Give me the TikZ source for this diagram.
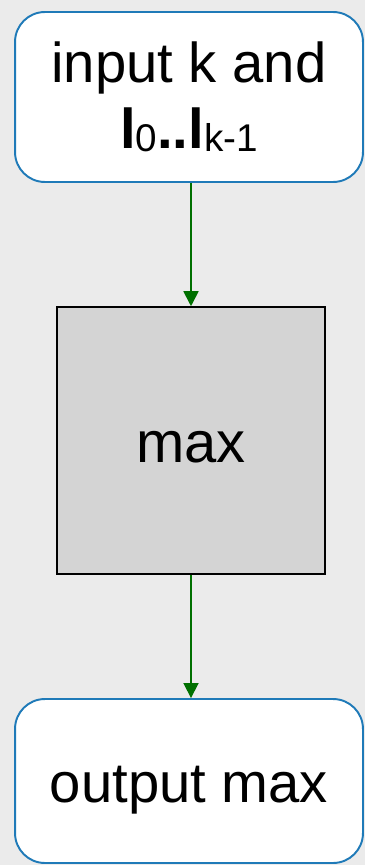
\documentclass[tikz,border=0pt]{standalone}
\usepackage{fontspec}
\setmainfont{Liberation Sans}
\usepackage{tikz}
\usetikzlibrary{arrows.meta,positioning,calc}
\definecolor{bgback}{HTML}{EBEBEB}
\definecolor{edgeblue}{HTML}{1F7AB8}
\definecolor{flowgreen}{HTML}{007000}
\definecolor{procfill}{HTML}{D4D4D4}
\newcommand{\subidx}[1]{\raisebox{-1.5pt}{\fontsize{22}{22}\selectfont #1}}

\begin{document}
\begin{tikzpicture}[
  x=0.02cm, y=-0.02cm,
  term/.style={
    draw=edgeblue, fill=white, line width=1.1pt, rounded corners=17pt,
    minimum width=6.96cm, align=center,
    font=\fontsize{32}{37.5}\selectfont
  },
  oneline/.style={text height=25pt, text depth=0pt},
  proc/.style={
    draw=black, fill=procfill, line width=0.9pt,
    minimum width=5.36cm, minimum height=5.34cm,
    font=\fontsize{33}{38}\selectfont
  },
  arr/.style={-{Triangle[length=3mm,width=3mm]}, flowgreen, line width=1pt}
]
  % background with the margins of the reference
  \fill[bgback] (0,0) rectangle (365,865);
  \useasboundingbox (0,0) rectangle (365,865);

  % column: input -> max -> output
  \node[term, minimum height=3.4cm]           (input)  at (189, 97)
    {input k and\\\textbf{l}\subidx{0}\textbf{..l}\subidx{k-1}};
  \node[proc, oneline]                        (maxbox) at (191, 440.5) {max};
  \node[term, oneline, minimum height=3.28cm] (output) at (189, 781)   {output max};

  \draw[arr] (input.south -| maxbox.north) -- (maxbox.north);
  \draw[arr] (maxbox.south) -- (output.north -| maxbox.south);
\end{tikzpicture}
\end{document}
